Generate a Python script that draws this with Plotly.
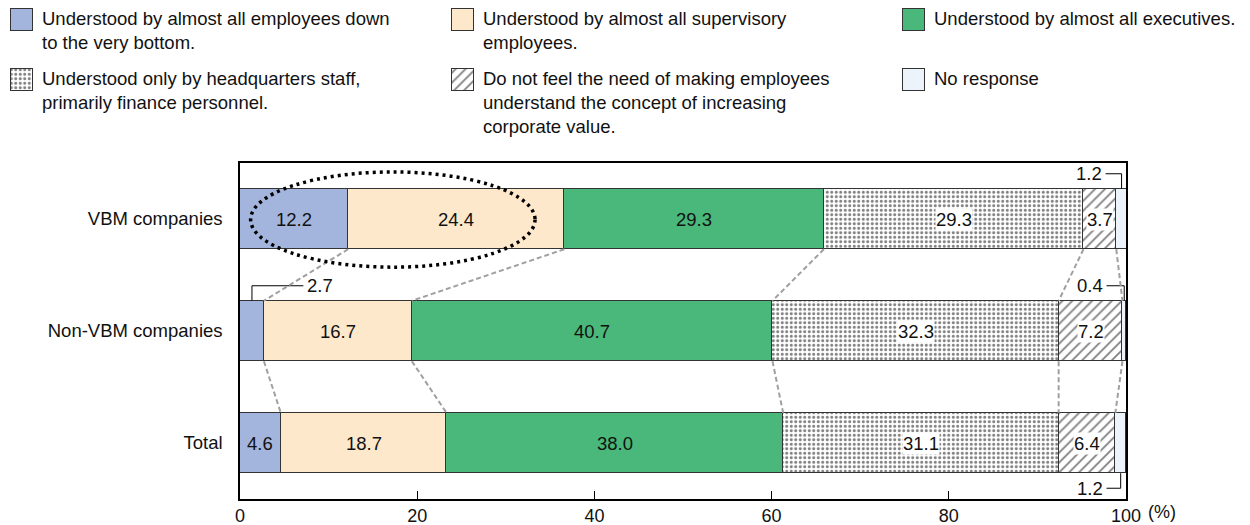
import numpy as np
import plotly.graph_objects as go

# Survey results (%)
categories = ["VBM companies", "Non-VBM companies", "Total"]
all_employees = [12.2, 2.7, 4.6]
supervisory = [24.4, 16.7, 18.7]
executives = [29.3, 40.7, 38.0]
hq_staff = [29.3, 32.3, 31.1]
no_need = [3.7, 7.2, 6.4]
no_response = [1.2, 0.4, 1.2]

series_names = [
    "Understood by almost all employees down<br>to the very bottom.",
    "Understood by almost all supervisory<br>employees.",
    "Understood by almost all executives.",
    "Understood only by headquarters staff,<br>primarily finance personnel.",
    "Do not feel the need of making employees<br>understand the concept of increasing<br>corporate value.",
    "No response",
]
series_values = [all_employees, supervisory, executives, hq_staff, no_need, no_response]

tick_values = [0, 20, 40, 60, 80, 100]
tick_labels = ["0", "20", "40", "60", "80", "100"]

# ---- styling ----
FONT = "Liberation Sans, Arial, Helvetica, sans-serif"
FS = 18.5
TXT = "#111111"
EDGE = "#333333"
styles = [
    dict(color="#a3b5dc"),
    dict(color="#fde8cb"),
    dict(color="#4ab87a"),
    dict(color="white", pattern=dict(shape=".", fgcolor="black", bgcolor="white", size=4.5, solidity=0.35)),
    dict(color="white", pattern=dict(shape="/", fgcolor="black", bgcolor="white", size=7, solidity=0.25)),
    dict(color="#edf3fb"),
]

W, H = 1250, 525
X_DOM = [240 / W, 1126 / W]
Y_DOM = [(H - 499) / H, (H - 163) / H]
BAR_W = 0.54
ypos = [2, 1, 0]  # VBM on top, Total at bottom
px_x = (X_DOM[1] - X_DOM[0]) * W / 100.0  # pixels per % unit
px_y = (Y_DOM[1] - Y_DOM[0]) * H / 3.0     # pixels per row unit

fig = go.Figure()

# stacked horizontal bars
for name, vals, st in zip(series_names, series_values, styles):
    fig.add_trace(go.Bar(
        y=ypos, x=vals, orientation="h", width=BAR_W, name=name,
        marker=dict(line=dict(color=EDGE, width=1), **st),
        showlegend=False, hoverinfo="x",
    ))

annotations = []
shapes = []

vals_arr = np.array(series_values)  # series x rows
cum = np.cumsum(vals_arr, axis=0)
starts = cum - vals_arr

# value labels inside the segments
for s in range(vals_arr.shape[0]):
    for r in range(vals_arr.shape[1]):
        v = vals_arr[s, r]
        if v < 3:
            continue
        patterned = "pattern" in styles[s]
        annotations.append(dict(
            x=starts[s, r] + v / 2, y=ypos[r], xref="x", yref="y",
            text=f"{v:.1f}", showarrow=False,
            font=dict(family=FONT, size=FS, color=TXT),
            bgcolor="white" if patterned else None, borderpad=0,
        ))

# callout labels for the thin segments: (series, row, vertical side, text side, leader length in %)
callouts = [
    (5, 0, +1, -1, 1.8),
    (0, 1, +1, +1, 5.8),
    (5, 1, +1, -1, 2.0),
    (5, 2, -1, -1, 1.6),
]
rise = 15 / px_y
for s, r, vside, hside, lead in callouts:
    v = vals_arr[s, r]
    xc = starts[s, r] + v / 2
    y_edge = ypos[r] + vside * BAR_W / 2
    y_lab = y_edge + vside * rise
    x_end = xc + hside * lead
    shapes.append(dict(type="path", xref="x", yref="y",
                       path=f"M{x_end},{y_lab} L{xc},{y_lab} L{xc},{y_edge}",
                       line=dict(color="black", width=1)))
    annotations.append(dict(
        x=x_end, y=y_lab, xref="x", yref="y", text=f"{v:.1f}", showarrow=False,
        xanchor="left" if hside > 0 else "right", xshift=2 * hside,
        font=dict(family=FONT, size=FS, color=TXT),
    ))

# dashed connectors between the segment boundaries of adjacent bars
for upper, lower in [(0, 1), (1, 2)]:
    for k in range(vals_arr.shape[0] - 1):
        shapes.append(dict(
            type="line", xref="x", yref="y",
            x0=cum[k, upper], y0=ypos[upper] - BAR_W / 2,
            x1=cum[k, lower], y1=ypos[lower] + BAR_W / 2,
            line=dict(color="#a0a0a0", width=2, dash="5px,3px"),
        ))

# dotted ellipse highlighting the first two VBM segments
shapes.append(dict(type="circle", xref="x", yref="y",
                   x0=1.2, x1=33.3, y0=1.57, y1=2.42,
                   line=dict(color="black", width=3.5, dash="3px,4px")))

# ---- legend drawn on a pixel-space overlay axis ----
leg_cols = [11, 452, 903]
leg_rows = [9, 69]
SW = 22
for i, (name, st) in enumerate(zip(series_names, styles)):
    c, r = i % 3, i // 3
    x0, y0 = leg_cols[c], leg_rows[r]
    fig.add_trace(go.Bar(
        y=[y0 + SW / 2], x=[SW], base=[x0], width=[SW], orientation="h",
        xaxis="x2", yaxis="y2", showlegend=False, hoverinfo="skip",
        marker=dict(line=dict(color=EDGE, width=1), **st),
    ))
    annotations.append(dict(
        x=x0 + SW + 7, y=y0 - 3, xref="x2", yref="y2", text=name,
        showarrow=False, xanchor="left", yanchor="top", align="left",
        font=dict(family=FONT, size=FS, color=TXT),
    ))

# percent unit next to the last tick label
annotations.append(dict(
    x=100, y=(H - 512) / H, xref="x", yref="paper", text="(%)", showarrow=False,
    xanchor="left", yanchor="middle", xshift=20,
    font=dict(family=FONT, size=18, color=TXT),
))

fig.update_layout(
    width=W, height=H,
    margin=dict(l=0, r=0, t=0, b=0, autoexpand=False),
    paper_bgcolor="white", plot_bgcolor="rgba(0,0,0,0)",
    barmode="stack", bargap=0,
    font=dict(family=FONT, size=FS, color=TXT),
    xaxis=dict(
        domain=X_DOM, range=[0, 100], tickvals=tick_values, ticktext=tick_labels,
        ticks="inside", ticklen=8, tickcolor="black", tickwidth=1,
        showline=True, linecolor="black", linewidth=1.5, mirror=True,
        showgrid=False, zeroline=False, fixedrange=True, automargin=False,
        tickfont=dict(family=FONT, size=18, color=TXT),
    ),
    yaxis=dict(
        domain=Y_DOM, range=[-0.5, 2.5], tickvals=ypos, ticktext=categories,
        ticks="", showline=True, linecolor="black", linewidth=1.5, mirror=True,
        showgrid=False, zeroline=False, fixedrange=True, ticklabelstandoff=12,
        automargin=False,
        tickfont=dict(family=FONT, size=FS, color=TXT),
    ),
    xaxis2=dict(domain=[0, 1], range=[0, W], anchor="y2", visible=False,
                fixedrange=True, automargin=False),
    yaxis2=dict(domain=[0, 1], range=[H, 0], anchor="x2", visible=False,
                fixedrange=True, automargin=False),
    annotations=annotations,
    shapes=shapes,
)

fig.write_html("out.html")
